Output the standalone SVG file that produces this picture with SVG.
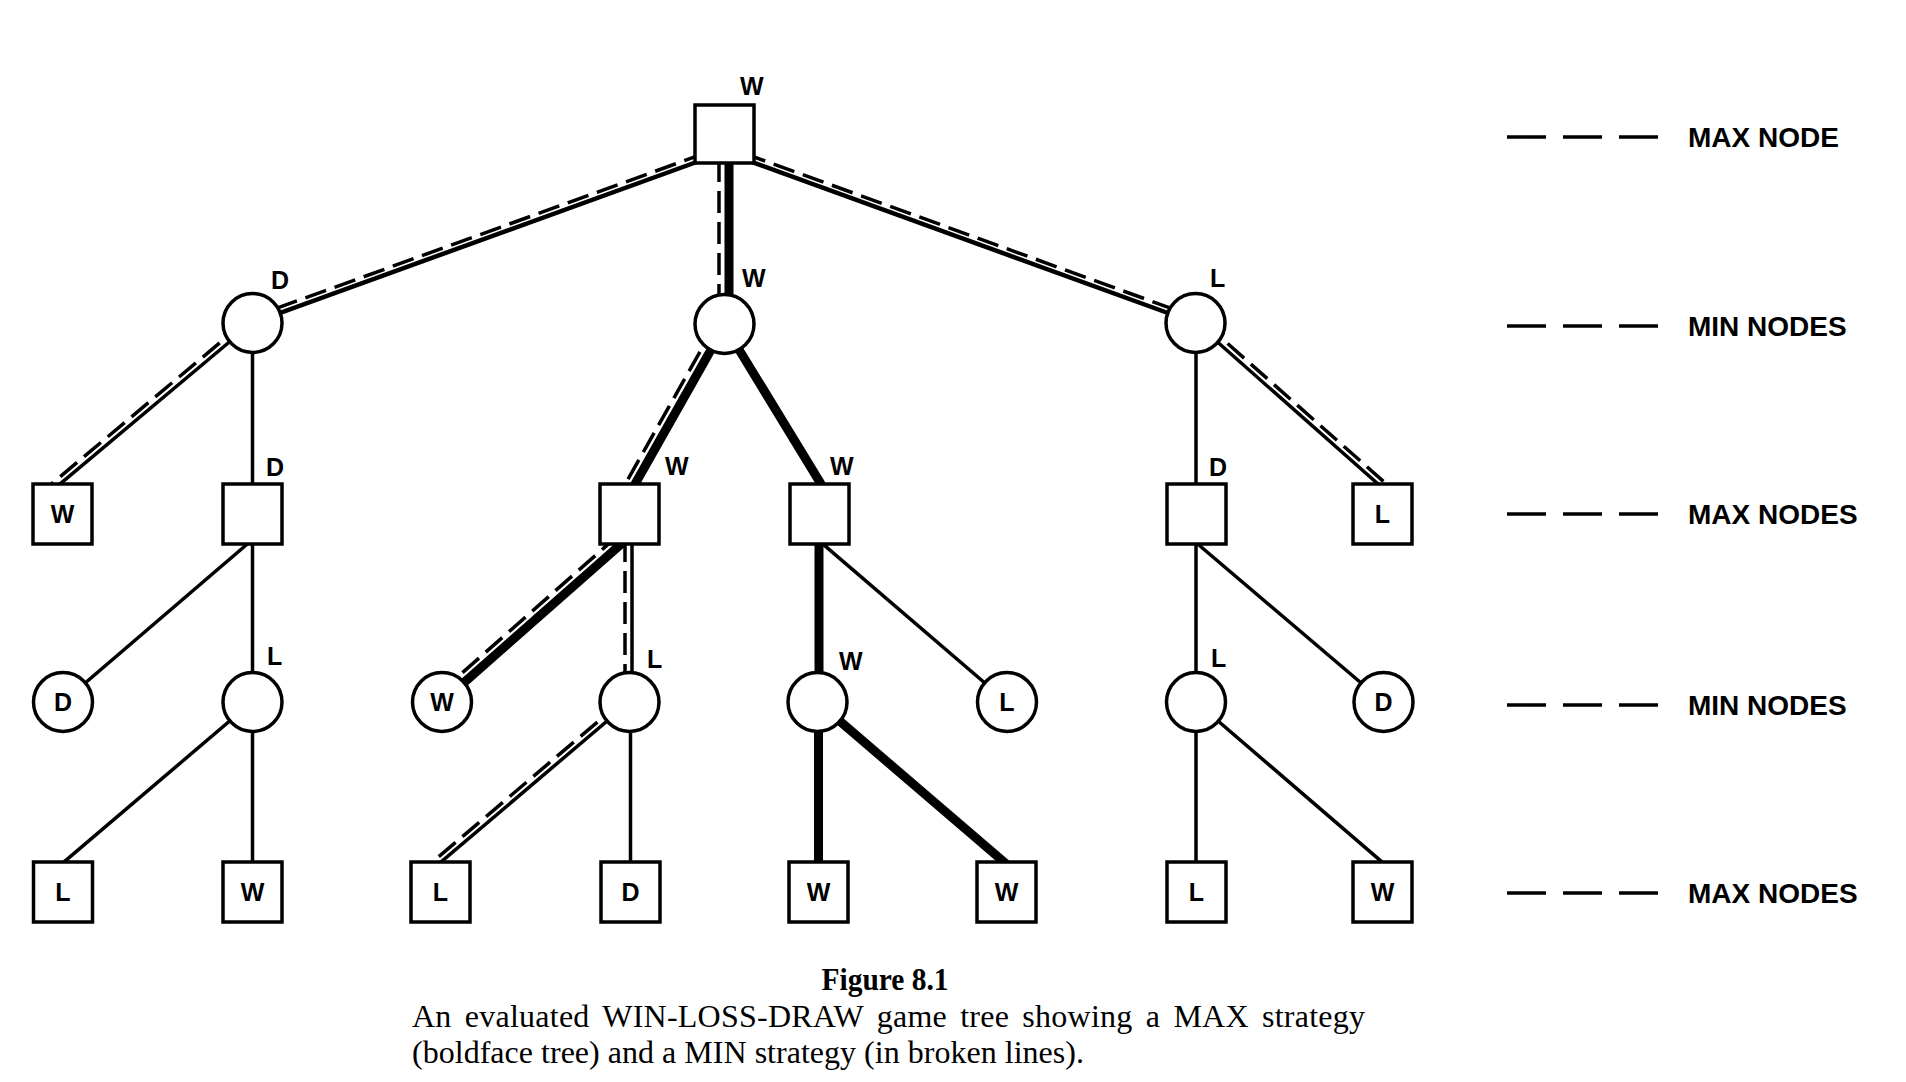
<svg xmlns="http://www.w3.org/2000/svg" width="1906" height="1082" viewBox="0 0 1906 1082">
<style>
.n{fill:#fff;stroke:#000;stroke-width:3.5}
.e{stroke:#000;stroke-width:3.5;fill:none}
.t{stroke-width:4.5}
.b{stroke:#000;stroke-width:9;fill:none}
.d{stroke:#000;stroke-width:3.5;fill:none;stroke-dasharray:22 9}
.lg{stroke:#000;stroke-width:3.5;stroke-dasharray:39 17}
.l{font-family:"Liberation Sans",Arial,sans-serif;font-weight:bold;font-size:25px;fill:#000}
.c{text-anchor:middle}
.k{font-family:"Liberation Sans",Arial,sans-serif;font-weight:bold;font-size:28px;fill:#000}
.cap{font-family:"Liberation Serif","Times New Roman",serif;font-size:32px;fill:#000}
</style>
<rect width="1906" height="1082" fill="#fff"/>
<g id="connectors">
<line class="e t" x1="705" y1="159" x2="252" y2="323"/>
<line class="d" x1="705" y1="153.2" x2="252" y2="317.2"/>
<line class="b" x1="729" y1="150" x2="729" y2="310"/>
<line class="d" x1="719" y1="160" x2="719" y2="305"/>
<line class="e t" x1="744.5" y1="159.3" x2="1195.5" y2="323"/>
<line class="d" x1="744.5" y1="153.5" x2="1195.5" y2="317.2"/>
<line class="e" x1="252" y1="323" x2="53.9" y2="489.1"/>
<line class="d" x1="243.4" y1="323" x2="45.3" y2="489.1"/>
<line class="e" x1="252.5" y1="323" x2="252.5" y2="492"/>
<line class="b" x1="725" y1="325" x2="631.1" y2="491"/>
<line class="d" x1="715.2" y1="325" x2="621.3" y2="491"/>
<line class="b" x1="724" y1="325" x2="825.2" y2="490.8"/>
<line class="e" x1="1196" y1="323" x2="1196" y2="492"/>
<line class="e" x1="1196" y1="323" x2="1384" y2="489.3"/>
<line class="d" x1="1204.4" y1="323" x2="1392.4" y2="489.3"/>
<line class="e" x1="252" y1="540" x2="63" y2="702"/>
<line class="e" x1="252.5" y1="540" x2="252.5" y2="702"/>
<line class="b" x1="631.3" y1="535.1" x2="442" y2="702"/>
<line class="d" x1="618.5" y1="535.1" x2="429.2" y2="702"/>
<line class="e" x1="632" y1="540" x2="632" y2="702"/>
<line class="d" x1="625" y1="540" x2="625" y2="702"/>
<line class="b" x1="819" y1="540" x2="819" y2="702"/>
<line class="e" x1="818" y1="539.8" x2="1007" y2="702"/>
<line class="e" x1="1196" y1="540" x2="1196" y2="702"/>
<line class="e" x1="1193" y1="540" x2="1383.5" y2="702"/>
<line class="e" x1="252" y1="702" x2="57.9" y2="867.2"/>
<line class="e" x1="252.5" y1="702" x2="252.5" y2="868"/>
<line class="e" x1="629.5" y1="702" x2="434.9" y2="867.2"/>
<line class="d" x1="621" y1="702" x2="426.4" y2="867.2"/>
<line class="e" x1="630.5" y1="702" x2="630.5" y2="868"/>
<line class="b" x1="818.5" y1="702" x2="818.5" y2="868"/>
<line class="b" x1="817.5" y1="702" x2="1010" y2="867.2"/>
<line class="e" x1="1196" y1="702" x2="1196" y2="868"/>
<line class="e" x1="1196" y1="702" x2="1388" y2="867.2"/>
</g>
<g id="root"><rect class="n" x="695" y="105" width="59" height="58"/><text class="l" x="740" y="95">W</text></g>
<g id="n1a"><circle class="n" cx="252.5" cy="323" r="29.5"/><text class="l" x="271" y="289">D</text></g>
<g id="n1b"><circle class="n" cx="724.5" cy="324" r="29.5"/><text class="l" x="742" y="287">W</text></g>
<g id="n1c"><circle class="n" cx="1195.5" cy="323" r="29.5"/><text class="l" x="1210" y="287">L</text></g>
<g id="n2a"><rect class="n" x="33" y="484" width="59" height="60"/><text class="l c" x="62.5" y="523">W</text></g>
<g id="n2b"><rect class="n" x="223" y="484" width="59" height="60"/><text class="l" x="266" y="476">D</text></g>
<g id="n2c"><rect class="n" x="600" y="484" width="59" height="60"/><text class="l" x="665" y="475">W</text></g>
<g id="n2d"><rect class="n" x="790" y="484" width="59" height="60"/><text class="l" x="830" y="475">W</text></g>
<g id="n2e"><rect class="n" x="1167" y="484" width="59" height="60"/><text class="l" x="1209" y="476">D</text></g>
<g id="n2f"><rect class="n" x="1353" y="484" width="59" height="60"/><text class="l c" x="1382.5" y="523">L</text></g>
<g id="n3a"><circle class="n" cx="63" cy="702" r="29.5"/><text class="l c" x="63" y="711">D</text></g>
<g id="n3b"><circle class="n" cx="252.5" cy="702" r="29.5"/><text class="l" x="267" y="665">L</text></g>
<g id="n3c"><circle class="n" cx="442" cy="702" r="29.5"/><text class="l c" x="442" y="711">W</text></g>
<g id="n3d"><circle class="n" cx="629.5" cy="702" r="29.5"/><text class="l" x="647" y="668">L</text></g>
<g id="n3e"><circle class="n" cx="817.5" cy="702" r="29.5"/><text class="l" x="839" y="670">W</text></g>
<g id="n3f"><circle class="n" cx="1007" cy="702" r="29.5"/><text class="l c" x="1007" y="711">L</text></g>
<g id="n3g"><circle class="n" cx="1196" cy="702" r="29.5"/><text class="l" x="1211" y="667">L</text></g>
<g id="n3h"><circle class="n" cx="1383.5" cy="702" r="29.5"/><text class="l c" x="1383.5" y="711">D</text></g>
<g id="n4a"><rect class="n" x="33.5" y="862" width="59" height="60"/><text class="l c" x="63" y="901">L</text></g>
<g id="n4b"><rect class="n" x="223" y="862" width="59" height="60"/><text class="l c" x="252.5" y="901">W</text></g>
<g id="n4c"><rect class="n" x="411" y="862" width="59" height="60"/><text class="l c" x="440.5" y="901">L</text></g>
<g id="n4d"><rect class="n" x="601" y="862" width="59" height="60"/><text class="l c" x="630.5" y="901">D</text></g>
<g id="n4e"><rect class="n" x="789" y="862" width="59" height="60"/><text class="l c" x="818.5" y="901">W</text></g>
<g id="n4f"><rect class="n" x="977" y="862" width="59" height="60"/><text class="l c" x="1006.5" y="901">W</text></g>
<g id="n4g"><rect class="n" x="1167" y="862" width="59" height="60"/><text class="l c" x="1196.5" y="901">L</text></g>
<g id="n4h"><rect class="n" x="1353" y="862" width="59" height="60"/><text class="l c" x="1382.5" y="901">W</text></g>
<g id="legend">
<line class="lg" x1="1507" y1="137" x2="1658" y2="137"/><text class="k" x="1688" y="147">MAX NODE</text>
<line class="lg" x1="1507" y1="326" x2="1658" y2="326"/><text class="k" x="1688" y="336">MIN NODES</text>
<line class="lg" x1="1507" y1="514" x2="1658" y2="514"/><text class="k" x="1688" y="524">MAX NODES</text>
<line class="lg" x1="1507" y1="705" x2="1658" y2="705"/><text class="k" x="1688" y="715">MIN NODES</text>
<line class="lg" x1="1507" y1="893" x2="1658" y2="893"/><text class="k" x="1688" y="903">MAX NODES</text>
</g>
<g id="caption">
<text class="cap" x="885" y="990" text-anchor="middle" font-weight="bold" font-size="31" textLength="127" lengthAdjust="spacingAndGlyphs">Figure 8.1</text>
<text class="cap" x="412" y="1027" word-spacing="5" textLength="953" lengthAdjust="spacing">An evaluated WIN-LOSS-DRAW game tree showing a MAX strategy</text>
<text class="cap" x="412" y="1063" textLength="672" lengthAdjust="spacing">(boldface tree) and a MIN strategy (in broken lines).</text>
</g>
</svg>
